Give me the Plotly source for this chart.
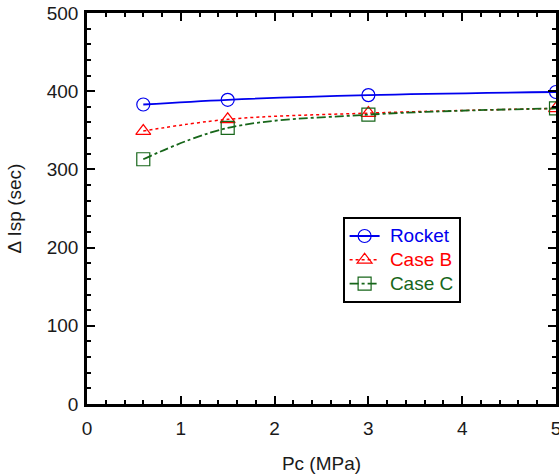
import plotly.graph_objects as go

pc = [0.6, 1.5, 3.0, 5.0]
rocket = [383, 389, 395, 399]
case_b = [349, 364, 372, 378]
case_c = [313, 353, 370, 378]

x_ticks = [0, 1, 2, 3, 4, 5]
y_ticks = [0, 100, 200, 300, 400, 500]

FONT = "Liberation Sans, Arial, sans-serif"
TXT = "#1a1a1a"

fig = go.Figure()
series = [
    ("Rocket", rocket, "#0000ee", "solid", "circle-open", 1.8),
    ("Case B", case_b, "#ff0000", "dot", "triangle-up-open", 1.5),
    ("Case C", case_c, "#17661a", "dashdot", "square-open", 1.8),
]
for name, ys, col, dash, sym, w in series:
    fig.add_trace(go.Scatter(
        x=pc, y=ys, mode="lines+markers",
        name=f"<span style='color:{col};font-size:19px'>&nbsp;{name}</span>",
        line=dict(color=col, dash=dash, width=w, shape="spline", smoothing=1.0),
        marker=dict(symbol=sym, size=13, color=col, line=dict(width=1.2, color=col)),
        cliponaxis=True,
    ))

axis_common = dict(
    showline=True, linecolor="black", linewidth=2.5, mirror="allticks",
    ticks="inside", ticklen=8, tickwidth=2, tickcolor="black",
    showgrid=False, zeroline=False, automargin=False,
    ticklabeloverflow="allow",
    tickfont=dict(family=FONT, size=19, color=TXT),
)
fig.update_xaxes(range=[0, 5], tickvals=x_ticks, ticklabelstandoff=5, **axis_common,
                 minor=dict(dtick=0.2, ticks="inside", ticklen=4, tickwidth=1.5, tickcolor="black"),
                 title=dict(text="Pc (MPa)", font=dict(family=FONT, size=19, color=TXT), standoff=20))
fig.update_yaxes(range=[0, 500], tickvals=y_ticks, ticklabelstandoff=2, **axis_common,
                 minor=dict(dtick=20, ticks="inside", ticklen=4, tickwidth=1.5, tickcolor="black"),
                 title=dict(text="Δ Isp (sec)", font=dict(family=FONT, size=19, color=TXT), standoff=21))

fig.update_layout(
    width=559, height=475,
    margin=dict(l=87, r=3, t=13, b=71),
    paper_bgcolor="white", plot_bgcolor="white",
    showlegend=True,
    legend=dict(x=0.545, y=0.478, xanchor="left", yanchor="top",
                bgcolor="white", bordercolor="black", borderwidth=2,
                font=dict(family=FONT, size=16), tracegroupgap=0,
                itemwidth=30),
)
# remove the page's default body margin so the figure fills the window exactly
fig.write_html("out.html", config={"displayModeBar": False},
               post_script="document.body.style.margin='0';")
